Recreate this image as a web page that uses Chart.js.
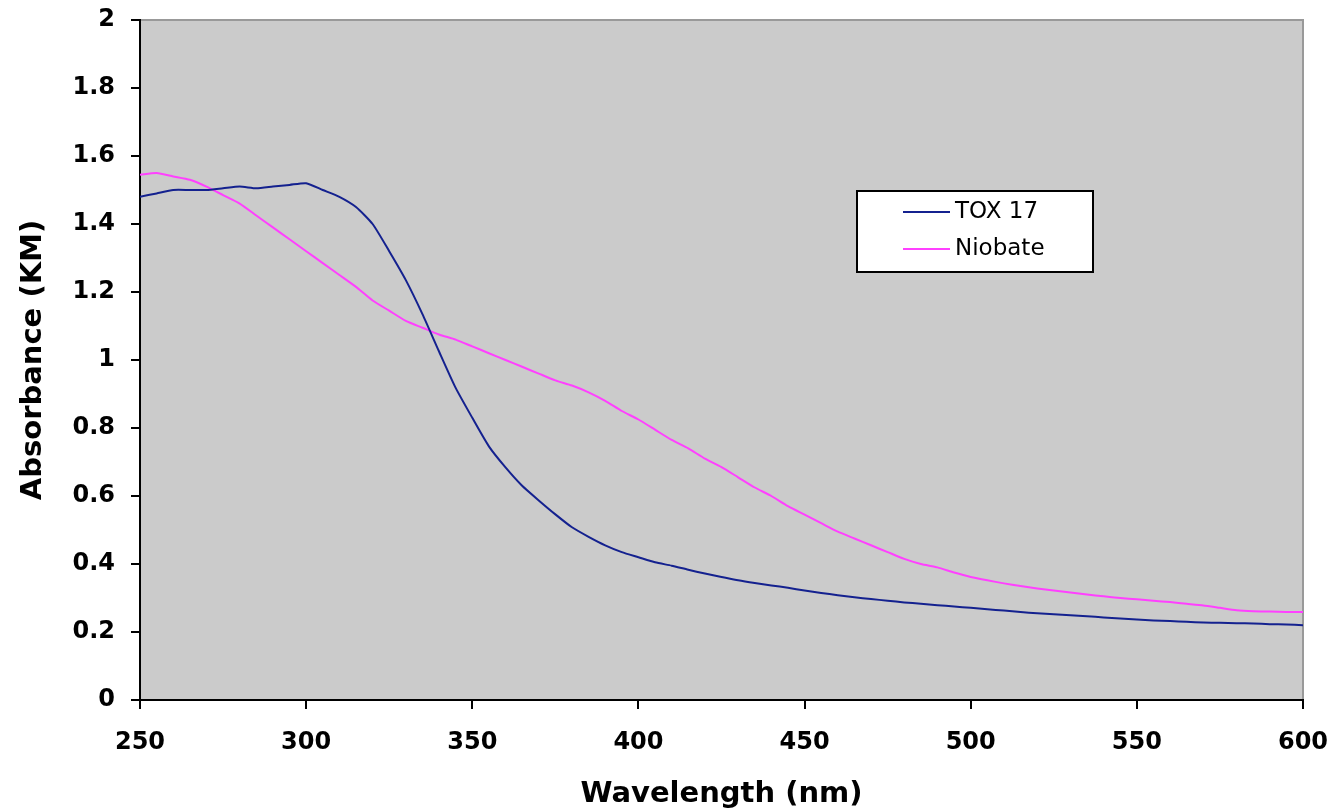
<!DOCTYPE html>
<html>
<head>
<meta charset="utf-8">
<title>Absorbance</title>
<script src="https://cdn.jsdelivr.net/npm/chart.js@4.4.1/dist/chart.umd.min.js"></script>
<style>
  html, body { margin: 0; padding: 0; background: #ffffff; }
  #chart { display: block; }
</style>
</head>
<body>
<canvas id="chart" width="1336" height="812"></canvas>
<script>
// wavelength grid (nm), 5 nm steps
const wavelengths = [
    250, 255, 260, 265, 270, 275, 280, 285, 290, 295,
    300, 305, 310, 315, 320, 325, 330, 335, 340, 345,
    350, 355, 360, 365, 370, 375, 380, 385, 390, 395,
    400, 405, 410, 415, 420, 425, 430, 435, 440, 445,
    450, 455, 460, 465, 470, 475, 480, 485, 490, 495,
    500, 505, 510, 515, 520, 525, 530, 535, 540, 545,
    550, 555, 560, 565, 570, 575, 580, 585, 590, 595,
    600
];

const tox17 = [
    1.48, 1.49, 1.50, 1.50, 1.50, 1.505, 1.51, 1.505, 1.51, 1.515,
    1.52, 1.50, 1.48, 1.45, 1.40, 1.32, 1.235, 1.135, 1.025, 0.918,
    0.83, 0.746, 0.684, 0.63, 0.587, 0.546, 0.508, 0.48, 0.455, 0.435,
    0.42, 0.405, 0.395, 0.383, 0.372, 0.362, 0.352, 0.344, 0.337, 0.33,
    0.322, 0.315, 0.308, 0.302, 0.297, 0.292, 0.287, 0.283, 0.279, 0.275,
    0.271, 0.267, 0.263, 0.259, 0.255, 0.252, 0.249, 0.246, 0.243, 0.24,
    0.237, 0.234, 0.232, 0.23, 0.228, 0.227, 0.226, 0.225, 0.223, 0.222,
    0.22
];

const niobate = [
    1.545, 1.55, 1.54, 1.53, 1.51, 1.485, 1.46, 1.425, 1.39, 1.355,
    1.32, 1.285, 1.25, 1.215, 1.175, 1.145, 1.115, 1.095, 1.075, 1.06,
    1.04, 1.02, 1.00, 0.98, 0.96, 0.94, 0.925, 0.905, 0.88, 0.85,
    0.825, 0.795, 0.765, 0.74, 0.71, 0.685, 0.655, 0.625, 0.60, 0.57,
    0.545, 0.52, 0.495, 0.475, 0.455, 0.435, 0.415, 0.40, 0.39, 0.375,
    0.362, 0.352, 0.343, 0.335, 0.328, 0.322, 0.316, 0.31, 0.305, 0.30,
    0.296, 0.292, 0.288, 0.283, 0.278, 0.271, 0.264, 0.261, 0.26, 0.259,
    0.259
];

const seriesNames = ['TOX 17', 'Niobate'];
const seriesColors = ['#14218f', '#ff40ff'];

const toPoints = (ys) => wavelengths.map((x, i) => ({ x: x, y: ys[i] }));

const tickFont = { family: 'DejaVu Sans', size: 24, weight: 'bold' };
const titleFont = { family: 'DejaVu Sans', size: 29, weight: 'bold' };

// grey plot area with thin grey top/right edges
const plotBackground = {
    id: 'plotBackground',
    beforeDraw(chart) {
        const { ctx, chartArea: a } = chart;
        ctx.save();
        ctx.fillStyle = '#cbcbcb';
        ctx.fillRect(a.left, a.top, a.right - a.left, a.bottom - a.top);
        ctx.strokeStyle = '#999999';
        ctx.lineWidth = 2;
        ctx.beginPath();
        ctx.moveTo(a.left, a.top);
        ctx.lineTo(a.right, a.top);
        ctx.lineTo(a.right, a.bottom);
        ctx.stroke();
        ctx.restore();
    }
};

// boxed legend inside the plot
const boxLegend = {
    id: 'boxLegend',
    afterDatasetsDraw(chart) {
        const { ctx } = chart;
        const x = 857, y = 191, w = 236, h = 81;
        ctx.save();
        ctx.fillStyle = '#ffffff';
        ctx.fillRect(x, y, w, h);
        ctx.strokeStyle = '#000000';
        ctx.lineWidth = 2;
        ctx.strokeRect(x, y, w, h);
        ctx.font = '23px "DejaVu Sans"';
        ctx.textBaseline = 'middle';
        chart.data.datasets.forEach((ds, i) => {
            const ly = y + 21 + i * 37;
            ctx.strokeStyle = ds.borderColor;
            ctx.lineWidth = 2;
            ctx.beginPath();
            ctx.moveTo(903, ly);
            ctx.lineTo(950, ly);
            ctx.stroke();
            ctx.fillStyle = '#000000';
            ctx.fillText(ds.label, 955, ly);
        });
        ctx.restore();
    }
};

new Chart(document.getElementById('chart').getContext('2d'), {
    type: 'line',
    data: {
        datasets: seriesNames.map((name, i) => ({
            label: name,
            data: toPoints(i === 0 ? tox17 : niobate),
            borderColor: seriesColors[i],
            backgroundColor: seriesColors[i],
            borderWidth: 2,
            pointRadius: 0,
            tension: 0.2,
            fill: false
        }))
    },
    options: {
        responsive: false,
        animation: false,
        layout: { padding: { top: 20, right: 33, left: 0, bottom: 0 } },
        plugins: {
            legend: { display: false },
            tooltip: { enabled: false }
        },
        scales: {
            x: {
                type: 'linear',
                min: 250,
                max: 600,
                afterFit: (scale) => {
                    scale.height = 112;
                    scale.paddingLeft = 0;
                    scale.paddingRight = 0;
                },
                ticks: { stepSize: 50, color: '#000000', font: tickFont, padding: 19, maxRotation: 0 },
                grid: { drawOnChartArea: false, tickLength: 9, color: '#000000', lineWidth: 2 },
                border: { color: '#000000', width: 2 },
                title: { display: true, text: 'Wavelength (nm)', color: '#000000', font: titleFont, padding: { top: 0, bottom: 0 } }
            },
            y: {
                min: 0,
                max: 2,
                afterFit: (scale) => {
                    scale.width = 140;
                    scale.paddingTop = 0;
                    scale.paddingBottom = 0;
                },
                ticks: {
                    stepSize: 0.2, color: '#000000', font: tickFont, padding: 16,
                    callback: (v) => String(Number(v.toFixed(1)))
                },
                grid: { drawOnChartArea: false, tickLength: 9, color: '#000000', lineWidth: 2 },
                border: { color: '#000000', width: 2 },
                title: { display: true, text: 'Absorbance (KM)', color: '#000000', font: titleFont, padding: { top: 16, bottom: 0 } }
            }
        }
    },
    plugins: [plotBackground, boxLegend]
});
</script>
</body>
</html>
